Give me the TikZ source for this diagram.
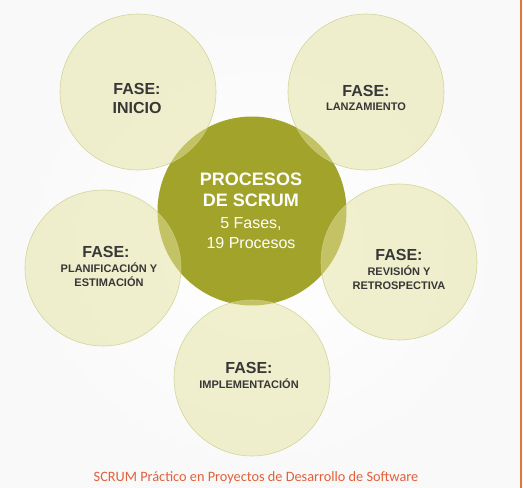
\documentclass[tikz,border=0pt]{standalone}
\usepackage{fontspec}
\setmainfont{Liberation Sans}
\newfontfamily\footfont{Carlito}
\definecolor{phasefill}{RGB}{228,228,160}
\definecolor{phaseedge}{RGB}{205,205,140}
\definecolor{coreolive}{RGB}{162,163,42}
\definecolor{labelgray}{RGB}{55,55,55}
\definecolor{footorange}{RGB}{226,96,58}
\definecolor{railorange}{RGB}{222,120,60}
\begin{document}
\begin{tikzpicture}[x=1pt,y=-1pt,
  phase/.style={circle,minimum size=156pt,inner sep=0pt,fill=phasefill,fill opacity=0.5,
    draw=phaseedge,draw opacity=0.8,line width=0.6pt},
  core/.style={circle,minimum size=189pt,inner sep=0pt,fill=coreolive},
  phasetitle/.style={font=\bfseries\fontsize{16}{18}\selectfont,text=labelgray},
  phasename/.style={font=\bfseries\fontsize{11}{14}\selectfont,text=labelgray,align=center},
]
% page background with a soft vignette
\shade[inner color=white,outer color=gray!5] (0,0) rectangle (523,488);
\useasboundingbox (0,0) rectangle (523,488);
\draw[railorange,line width=1.4pt] (521,0) -- (521,488);

% central process circle
\node[core] (core) at (252,211) {};

% surrounding phase circles
\node[phase] (inicio) at (138,92) {};
\node[phase] (lanz) at (366,92) {};
\node[phase] (plan) at (103,268) {};
\node[phase] (rev) at (399,262) {};
\node[phase] (impl) at (252,378) {};

% central text
\node[text=white,align=center,font=\bfseries\fontsize{18}{21}\selectfont] (coretitle) at (251,190) {PROCESOS\\DE SCRUM};
\node[text=white,align=center,font=\fontsize{16}{20.5}\selectfont] (coresub) at (251,233) {5 Fases,\\19 Procesos};

% phase labels
\node[phasetitle,align=center,font=\bfseries\fontsize{16}{19}\selectfont] (tinicio) at (137,98) {FASE:\\INICIO};
\node[phasetitle] (tlanz) at (366,91) {FASE:};
\node[phasename] (nlanz) at (366,107) {LANZAMIENTO};
\node[phasetitle] (tplan) at (106,252) {FASE:};
\node[phasename] (nplan) at (109,274.5) {PLANIFICACIÓN Y\\ESTIMACIÓN};
\node[phasetitle] (trev) at (399,255) {FASE:};
\node[phasename] (nrev) at (399,277.5) {REVISIÓN Y\\RETROSPECTIVA};
\node[phasetitle] (timpl) at (249,368) {FASE:};
\node[phasename] (nimpl) at (249,384) {IMPLEMENTACIÓN};

% footer
\node[text=footorange,font=\footfont\fontsize{14.3}{16}\selectfont] (foot) at (256,478) {SCRUM Práctico en Proyectos de Desarrollo de Software};
\end{tikzpicture}
\end{document}
